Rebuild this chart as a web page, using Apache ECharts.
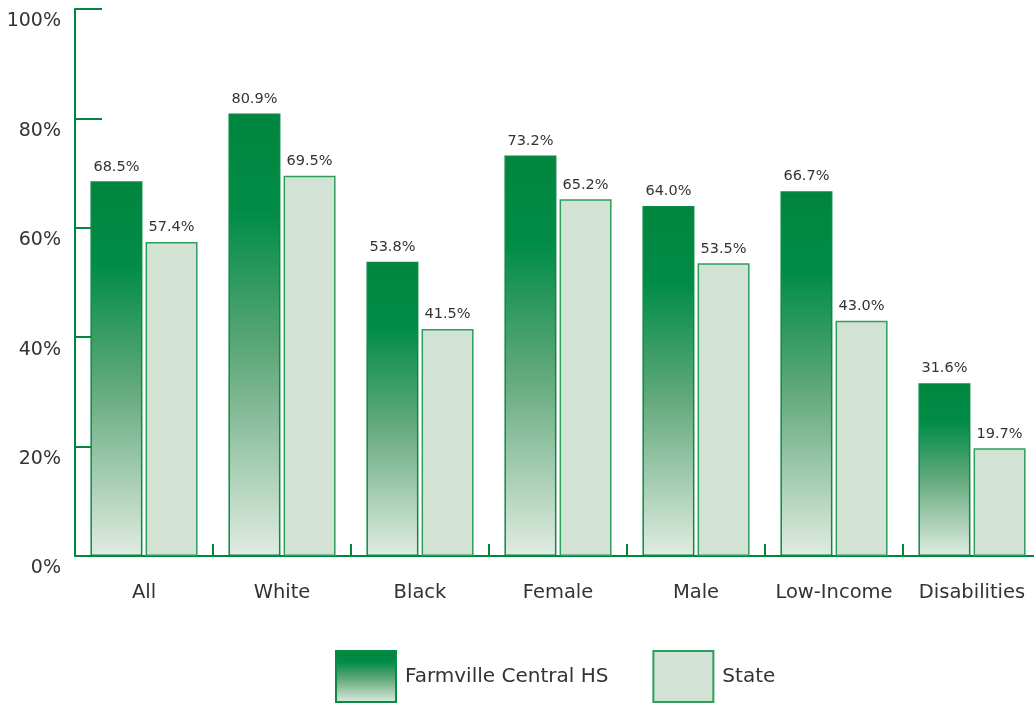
<!DOCTYPE html>
<html>
<head>
<meta charset="utf-8">
<script src="https://cdn.jsdelivr.net/npm/echarts@6/dist/echarts.min.js"></script>
<style>
html,body{margin:0;padding:0;background:#fff;overflow:hidden;}
#chart{width:1041px;height:704px;}
</style>
</head>
<body>
<div id="chart"></div>
<script>
const categories = ['All', 'White', 'Black', 'Female', 'Male', 'Low-Income', 'Disabilities'];
const schoolName = 'Farmville Central HS';
const stateName = 'State';
const schoolValues = [68.5, 80.9, 53.8, 73.2, 64.0, 66.7, 31.6];
const stateValues = [57.4, 69.5, 41.5, 65.2, 53.5, 43.0, 19.7];
const yTicks = [0, 20, 40, 60, 80, 100];

const green = '#00873e';
const font = 'DejaVu Sans';
const chart = echarts.init(document.getElementById('chart'), null, {renderer: 'canvas'});

const schoolGradient = new echarts.graphic.LinearGradient(0, 0, 0, 1, [
  {offset: 0, color: '#00853e'},
  {offset: 0.22, color: '#008c46'},
  {offset: 0.55, color: '#62a97b'},
  {offset: 1, color: '#e0ece2'}
]);

chart.setOption({
  animation: false,
  textStyle: {fontFamily: font},
  grid: {left: 75, right: 0, top: 9, height: 547, containLabel: false},
  legend: {
    data: [schoolName, stateName],
    left: 330,
    top: 645,
    itemWidth: 60,
    itemHeight: 51,
    itemGap: 44,
    icon: 'rect',
    textStyle: {fontFamily: font, fontSize: 20, color: '#333', padding: [0, 0, 0, 4]}
  },
  xAxis: {
    type: 'category',
    data: categories,
    axisLine: {lineStyle: {color: green, width: 2}},
    axisTick: {show: true, inside: true, length: 12, interval: 0, lineStyle: {color: green, width: 2}},
    axisLabel: {fontFamily: font, fontSize: 19.5, color: '#333', margin: 27, interval: 0}
  },
  yAxis: {
    type: 'value',
    min: yTicks[0],
    max: yTicks[yTicks.length - 1],
    interval: 20,
    splitLine: {show: false},
    axisLine: {show: true, lineStyle: {color: green, width: 2}},
    axisTick: {show: true, inside: true, length: 27, lineStyle: {color: green, width: 2}},
    axisLabel: {fontFamily: font, fontSize: 19, color: '#333', margin: 14, verticalAlign: 'top',
      padding: [3, 0, 0, 0], formatter: '{value}%'}
  },
  series: [
    {
      name: schoolName,
      type: 'bar',
      data: schoolValues,
      barWidth: 52,
      barGap: '6%',
      itemStyle: {color: schoolGradient, borderColor: '#0a8a44', borderWidth: 1.5},
      label: {show: true, position: 'top', distance: 7, fontFamily: font, fontSize: 14.5, color: '#333',
        formatter: p => p.value.toFixed(1) + '%'}
    },
    {
      name: stateName,
      type: 'bar',
      data: stateValues,
      barWidth: 52,
      itemStyle: {color: '#d2e3d6', borderColor: '#2e9e5b', borderWidth: 1.5},
      label: {show: true, position: 'top', distance: 7, fontFamily: font, fontSize: 14.5, color: '#333',
        formatter: p => p.value.toFixed(1) + '%'}
    }
  ]
});
</script>
</body>
</html>
